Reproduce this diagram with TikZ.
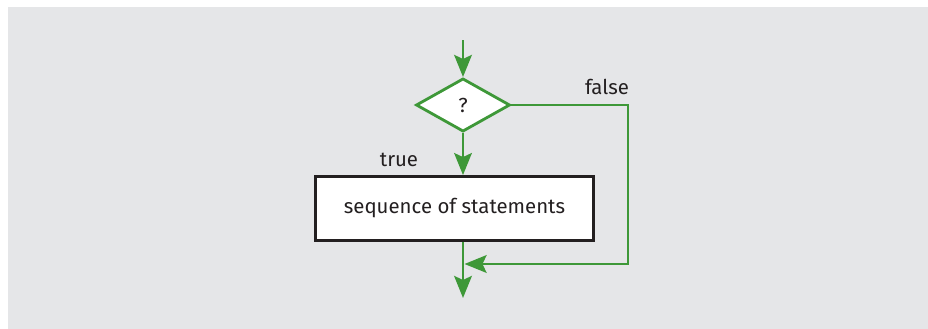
\documentclass[tikz,border=0pt]{standalone}
\usepackage{fontspec}
\setmainfont{Fira Sans}
\usetikzlibrary{shapes.geometric,arrows.meta,positioning}
\definecolor{flowgreen}{RGB}{62,152,56}
\definecolor{panelgray}{RGB}{229,230,232}
\definecolor{inkdark}{RGB}{35,31,32}

\begin{document}
\begin{tikzpicture}[x=0.025cm,y=-0.025cm]
\tikzstyle{decision}=[diamond, draw=flowgreen, line width=2pt, fill=white, minimum width=2.35cm, minimum height=1.33cm, inner sep=0pt, text=inkdark, font=\fontsize{14.5}{17}\selectfont]
\tikzstyle{stmt}=[rectangle, draw=inkdark, line width=2pt, fill=white, minimum width=6.95cm, minimum height=1.6cm, text=inkdark, font=\fontsize{14.5}{17}\selectfont]
\tikzstyle{tag}=[text=inkdark, font=\fontsize{14.5}{17}\selectfont]
\tikzstyle{connect}=[-{Stealth[length=5.5mm,width=4.4mm,inset=1mm]}, draw=flowgreen, line width=2pt]
\useasboundingbox (0,0) rectangle (928,329);
\fill[panelgray] (8,7) rectangle (928,329);
	\node[decision] (test) at (463,105) {?};
	\node[stmt] (body) at (454.5,208.5) {sequence of statements};
	\node[tag] (falsetag) at (607,87) {false};
	\node[tag] (truetag) at (399,160) {true};
	\coordinate (entry) at (463,40);
	\coordinate (exit) at (463,298);
	\coordinate (turn1) at (628,105);
	\coordinate (turn2) at (628,264);
	\coordinate (join) at (464.5,264);

	\path
		(entry) edge [connect] (test.north)
		(test.south) edge [connect] (test.south |- body.north)
		(test.south |- body.south) edge [connect] (exit);
	\draw[connect] (test.east) -- (turn1) -- (turn2) -- (join);
\end{tikzpicture}
\end{document}
